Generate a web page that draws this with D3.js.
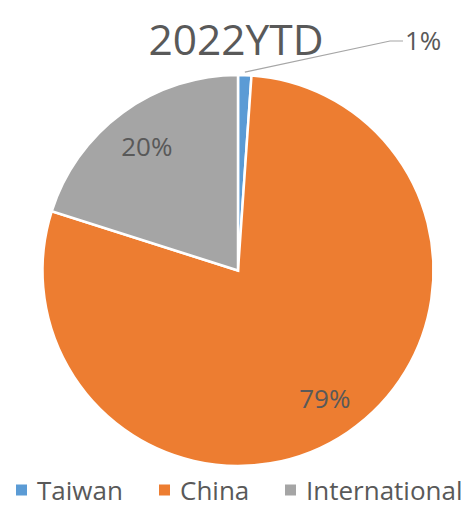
<!DOCTYPE html>
<html>
<head>
<meta charset="utf-8">
<script src="https://cdn.jsdelivr.net/npm/d3@7"></script>
<style>
  html, body { margin: 0; padding: 0; background: #ffffff; }
  svg { display: block; }
  text { font-family: "Open Sans", "Noto Sans", sans-serif; fill: #595959; }
</style>
</head>
<body>
<svg id="chart" width="471" height="507"></svg>
<script>
// Market share, 2022 year-to-date
const title = "2022YTD";
const categories = ["Taiwan", "China", "International"];
const values = [1.1, 78.8, 20.1];
const labels = ["1%", "79%", "20%"];
const colors = ["#5B9BD5", "#ED7D31", "#A5A5A5"];

const W = 471, H = 507;
const cx = 238, cy = 270.5, radius = 195.5;

const svg = d3.select("#chart");

// Title
svg.append("text")
  .attr("x", 236)
  .attr("y", 55)
  .attr("text-anchor", "middle")
  .style("font-size", "42.5px")
  .text(title);

const data = categories.map((c, i) => ({ name: c, value: values[i], label: labels[i], color: colors[i] }));

const pie = d3.pie().sort(null).value(d => d.value);
const arcs = pie(data);

const arc = d3.arc().innerRadius(0).outerRadius(radius);
const labelArc = d3.arc().innerRadius(radius * 0.79).outerRadius(radius * 0.79);

const g = svg.append("g").attr("transform", `translate(${cx},${cy})`);

g.selectAll("path.slice")
  .data(arcs)
  .join("path")
  .attr("class", "slice")
  .attr("d", arc)
  .attr("fill", d => d.data.color)
  .attr("stroke", "#ffffff")
  .attr("stroke-width", 2.5)
  .attr("stroke-linejoin", "miter");

// Labels: large slices inside, tiny slice outside with a leader line
arcs.forEach(d => {
  const span = d.endAngle - d.startAngle;
  if (span > 0.3) {
    const [x, y] = labelArc.centroid(d);
    g.append("text")
      .attr("x", x)
      .attr("y", y)
      .attr("text-anchor", "middle")
      .attr("dominant-baseline", "central")
      .style("font-size", "26px")
      .text(d.data.label);
  } else {
    const mid = (d.startAngle + d.endAngle) / 2;
    const r0 = radius + 3;
    const p0 = [r0 * Math.sin(mid), -r0 * Math.cos(mid)];
    const p1 = [152, -229.5];
    const p2 = [165, -229.5];
    g.append("polyline")
      .attr("points", [p0, p1, p2].map(p => p.join(",")).join(" "))
      .attr("fill", "none")
      .attr("stroke", "#A6A6A6")
      .attr("stroke-width", 1.2);
    g.append("text")
      .attr("x", p2[0] + 2)
      .attr("y", p2[1] - 1)
      .attr("dominant-baseline", "central")
      .style("font-size", "26px")
      .text(d.data.label);
  }
});

// Legend
const legend = svg.append("g").attr("class", "legend");
const itemX = [16, 159, 285];
data.forEach((d, i) => {
  const it = legend.append("g").attr("transform", `translate(${itemX[i]},490)`);
  it.append("rect")
    .attr("x", 0).attr("y", -5.5)
    .attr("width", 11).attr("height", 11)
    .attr("fill", d.color);
  it.append("text")
    .attr("x", 21)
    .attr("y", 10)
    .style("font-size", "26px")
    .text(d.name);
});
</script>
</body>
</html>
